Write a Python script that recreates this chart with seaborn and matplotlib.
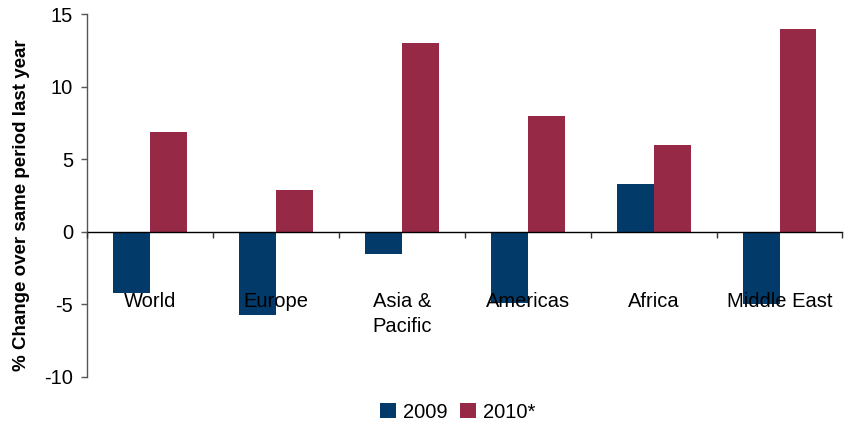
import matplotlib
matplotlib.use("Agg")
import matplotlib.pyplot as plt
import seaborn as sns
import pandas as pd
from matplotlib.patches import Patch

categories = ["World", "Europe", "Asia &\nPacific", "Americas", "Africa", "Middle East"]
values_2009 = [-4.2, -5.7, -1.5, -4.9, 3.3, -5.0]
values_2010 = [6.9, 2.9, 13.0, 8.0, 6.0, 14.0]
series = ["2009", "2010*"]
yticks = [-10, -5, 0, 5, 10, 15]

sns.set_theme(style="white")
plt.rcParams['font.family'] = ['Liberation Sans', 'DejaVu Sans']
plt.rcParams['axes.unicode_minus'] = False
plt.rcParams['text.color'] = 'black'
plt.rcParams['axes.labelcolor'] = 'black'
plt.rcParams['xtick.color'] = 'black'
plt.rcParams['ytick.color'] = 'black'

df = pd.DataFrame({
    "region": categories * 2,
    "year": [series[0]] * len(categories) + [series[1]] * len(categories),
    "value": values_2009 + values_2010,
})

colors = {"2009": "#023B6A", "2010*": "#952946"}

fig = plt.figure(figsize=(8.45, 4.23), dpi=100)
ax = fig.add_axes([0.103, 0.109, 0.894, 0.857])
sns.barplot(data=df, x="region", y="value", hue="year", palette=colors,
            order=categories, hue_order=series, width=0.587, saturation=1,
            legend=False, ax=ax, errorbar=None, linewidth=0)
ax.set_axisbelow(False)

ax.set_ylim(-10, 15)
ax.set_yticks(yticks)
ax.set_xlim(-0.5, 5.5)
ax.set_xlabel("")
ax.set_ylabel("% Change over same period last year", fontsize=13.5, fontweight="bold", color="black")
ax.yaxis.set_label_coords(-0.076, 0.474)

for s in ["top", "right"]:
    ax.spines[s].set_visible(False)
ax.spines["bottom"].set_position(("data", 0))
ax.spines["bottom"].set_color("black")
ax.spines["bottom"].set_linewidth(1.0)
ax.spines["left"].set_color("#555555")
ax.spines["left"].set_linewidth(1.0)

ax.tick_params(axis="y", which="major", direction="out", length=4, width=1, color="#555555",
               labelcolor="black", labelsize=14.5, pad=6, left=True)
ax.set_xticks(range(len(categories)))
ax.set_xticklabels(categories)
ax.tick_params(axis="x", which="major", length=0, pad=43, labelsize=14.5, labelcolor="black")
ax.set_xticks([i - 0.5 for i in range(len(categories) + 1)], minor=True)
ax.tick_params(axis="x", which="minor", direction="out", length=4, width=1, color="#333333", bottom=True)
for lbl in ax.get_xticklabels():
    lbl.set_verticalalignment("top")
    lbl.set_linespacing(1.4)

handles = [Patch(facecolor=colors[s], edgecolor="none", label=s) for s in series]
fig.legend(handles=handles, loc="center", bbox_to_anchor=(0.542, 0.026), ncol=2, frameon=False,
           fontsize=14.5, handlelength=0.8, handleheight=0.8, handletextpad=0.35, columnspacing=0.6,
           labelcolor="black")

fig.savefig("out.png", dpi=100)
